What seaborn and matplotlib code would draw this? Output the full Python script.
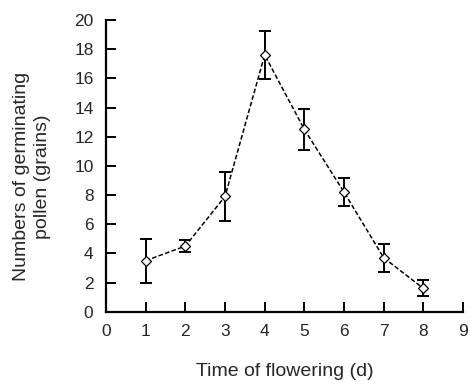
import matplotlib
matplotlib.use("Agg")
import matplotlib.pyplot as plt
import seaborn as sns
import pandas as pd

days = [1, 2, 3, 4, 5, 6, 7, 8]
pollen = [3.5, 4.5, 7.9, 17.6, 12.5, 8.2, 3.7, 1.6]
errors = [1.5, 0.4, 1.7, 1.65, 1.4, 0.95, 0.95, 0.55]
xticks = [0, 1, 2, 3, 4, 5, 6, 7, 8, 9]
yticks = [0, 2, 4, 6, 8, 10, 12, 14, 16, 18, 20]

sns.set_theme(style="ticks")
plt.rcParams['font.family'] = ['Liberation Sans', 'DejaVu Sans']

df = pd.DataFrame({"day": days, "pollen": pollen})

fig = plt.figure(figsize=(4.70, 3.87), dpi=100)
ax = fig.add_axes([106/470, 1-311.7/387, 357/470, 291.7/387])

ax.errorbar(days, pollen, yerr=errors, fmt="none", ecolor="black",
            elinewidth=1.4, capsize=4, capthick=1.4, zorder=2)
sns.lineplot(data=df, x="day", y="pollen", ax=ax, color="black",
             linewidth=1.1, marker="D", markersize=5, markerfacecolor="white",
             markeredgecolor="black", markeredgewidth=0.9, zorder=3)
ax.lines[-1].set_dashes([3, 1.5])

ax.set_xlim(0, 9)
ax.set_ylim(0, 20)
ax.set_xticks(xticks)
ax.set_yticks(yticks)
ax.tick_params(direction="in", length=7, width=1.4, labelsize=12.5, color="black")
ax.tick_params(axis="x", pad=9)
ax.tick_params(axis="y", pad=9)
for s in ["top", "right"]:
    ax.spines[s].set_visible(False)
for s in ["left", "bottom"]:
    ax.spines[s].set_linewidth(1.6)
    ax.spines[s].set_color("black")

ax.set_xlabel("Time of flowering (d)", fontsize=14, labelpad=17)
ax.set_ylabel("Numbers of germinating\npollen (grains)", fontsize=14,
              linespacing=1.3)
ax.yaxis.set_label_coords(-0.155, 0.462)

fig.savefig("out.png", dpi=100)
